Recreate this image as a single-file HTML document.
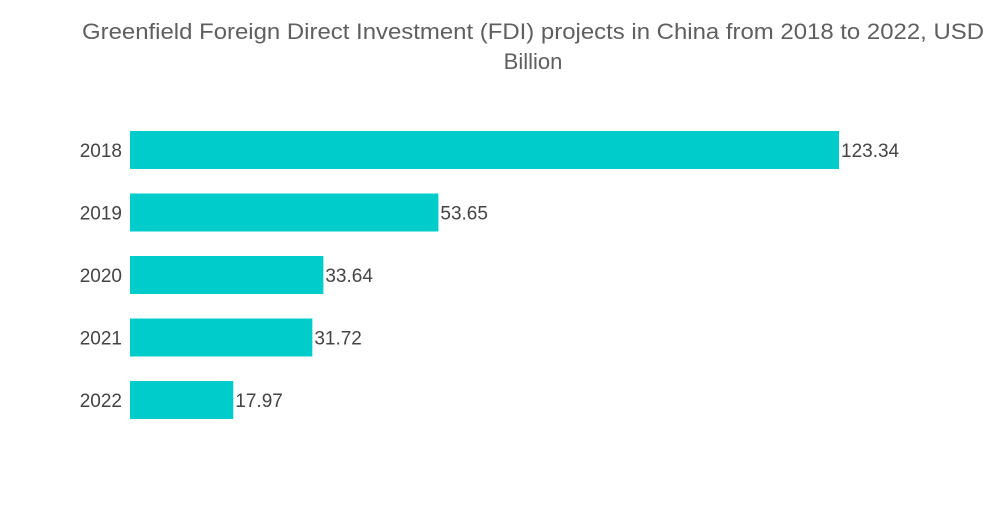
<!DOCTYPE html>
<html><head><meta charset="utf-8"><style>
body{margin:0;background:#fff;width:1000px;height:504px;overflow:hidden;font-family:"Liberation Sans",sans-serif}
</style></head><body>
<svg width="1000" height="504">
<text x="533" y="39" text-anchor="middle" font-size="22" fill="#5f5f5f" textLength="902" lengthAdjust="spacingAndGlyphs">Greenfield Foreign Direct Investment (FDI) projects in China from 2018 to 2022, USD</text>
<text x="533" y="69" text-anchor="middle" font-size="22" fill="#5f5f5f">Billion</text>
<g id="bars"></g>
</svg>
<script>
const categories=["2018","2019","2020","2021","2022"];
const values=[123.34,53.65,33.64,31.72,17.97];
const labels=["123.34","53.65","33.64","31.72","17.97"];
const x0=130,scale=709/123.34,y0=150,step=62.5,bh=38;
const xs=v=>x0+v*scale, ys=i=>y0+i*step;
const g=document.getElementById('bars'),ns="http://www.w3.org/2000/svg";
categories.forEach((c,i)=>{
 const r=document.createElementNS(ns,'rect');
 r.setAttribute('x',x0);r.setAttribute('y',ys(i)-bh/2);
 r.setAttribute('width',xs(values[i])-x0);r.setAttribute('height',bh);
 r.setAttribute('fill','#00cccc');
 
 
 g.appendChild(r);
 const t=document.createElementNS(ns,'text');
 t.setAttribute('x',122);t.setAttribute('y',ys(i)+7);t.setAttribute('text-anchor','end');
 t.setAttribute('font-size','19');t.setAttribute('fill','#444');t.textContent=c;
 
 
 g.appendChild(t);
 const v=document.createElementNS(ns,'text');
 v.setAttribute('x',xs(values[i])+2);v.setAttribute('y',ys(i)+7);
 v.setAttribute('font-size','19');v.setAttribute('fill','#444');v.textContent=labels[i];
 
 
 g.appendChild(v);
});
</script>
</body></html>
